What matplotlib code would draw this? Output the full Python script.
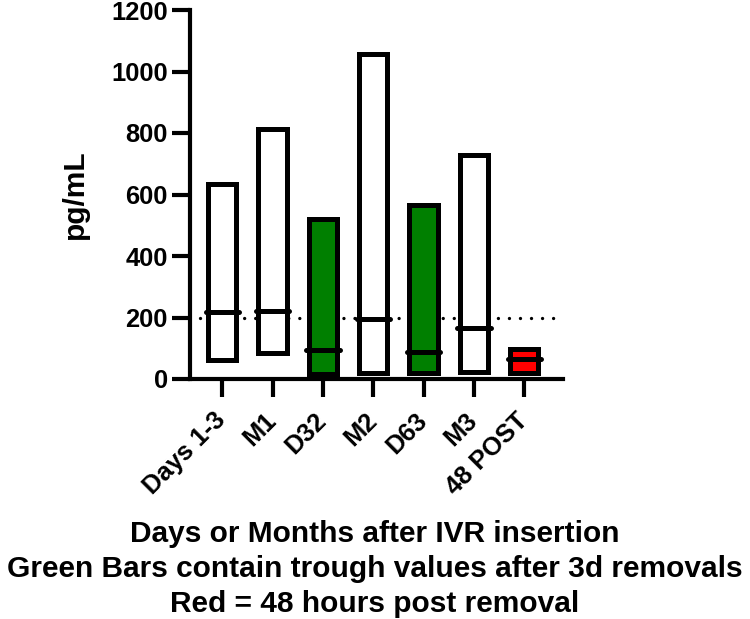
import matplotlib
matplotlib.use("Agg")
import matplotlib.pyplot as plt
import numpy as np

categories = ["Days 1-3", "M1", "D32", "M2", "D63", "M3", "48 POST"]
lows = [62, 86, 15, 20, 18, 24, 20]
highs = [634, 813, 520, 1057, 566, 728, 99]
medians = [217, 222, 94, 194, 87, 165, 65]
threshold = 200
y_ticks = [0, 200, 400, 600, 800, 1000, 1200]

fills = ["white", "white", "#007f00", "white", "#007f00", "white", "#ff0000"]

plt.rcParams['font.family'] = ['Liberation Sans', 'DejaVu Sans']
plt.rcParams['font.weight'] = 'bold'

fig = plt.figure(figsize=(7.5, 6.19), dpi=100)
W, H = 750, 619
ax = fig.add_axes([190 / W, 1 - 379 / H, (563 - 190) / W, (379 - 10) / H])

x = np.arange(len(categories))
bw = 0.56
ax.bar(x, np.array(highs) - np.array(lows), bottom=lows, width=bw,
       color=fills, edgecolor="black", linewidth=3.6, zorder=3)
for xi, m in zip(x, medians):
    ax.plot([xi - 0.33, xi + 0.33], [m, m], color="black", lw=3.6,
            solid_capstyle="round", zorder=4)

ax.plot([-0.44, 6.61], [threshold, threshold], color="black", lw=2.4,
        linestyle=(0, (0.01, 3.3)), dash_capstyle="round", zorder=2)

ax.set_xlim(-0.64, 6.77)
ax.set_ylim(0, 1200)
ax.set_yticks(y_ticks)
ax.set_xticks(x)
ax.set_xticklabels(categories, rotation=45, ha="right", va="center",
                   rotation_mode="anchor")
ax.tick_params(axis="y", length=13, width=3, labelsize=18.4, pad=3)
ax.tick_params(axis="x", length=13, width=3, labelsize=18.4, pad=14)
for lab in ax.get_xticklabels() + ax.get_yticklabels():
    lab.set_fontweight("bold")

for s in ["top", "right"]:
    ax.spines[s].set_visible(False)
for s in ["left", "bottom"]:
    ax.spines[s].set_linewidth(3)

ax.set_ylabel("pg/mL", fontsize=21.5, fontweight="bold")
ax.yaxis.set_label_coords((89 - 190) / (563 - 190), 0.5)

lines = ["Days or Months after IVR insertion",
         "Green Bars contain trough values after 3d removals",
         "Red = 48 hours post removal"]
for txt, yb in zip(lines, [542, 577, 612]):
    fig.text(0.5, 1 - yb / H, txt, ha="center", va="baseline",
             fontsize=21.5, fontweight="bold")

fig.savefig("out.png", dpi=100)
